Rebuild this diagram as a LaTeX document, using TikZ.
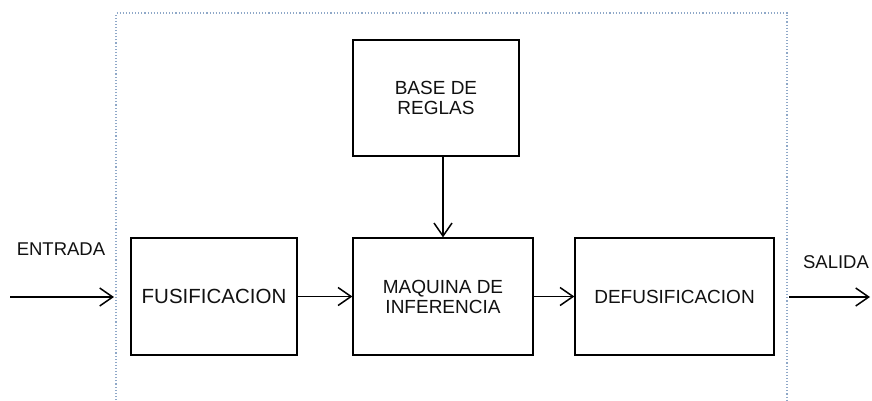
\documentclass[tikz,border=0pt]{standalone}
\usepackage{fontspec}
\setmainfont{Liberation Sans}
\usetikzlibrary{arrows.meta}
\definecolor{framec}{HTML}{8FA8C8}
\definecolor{txt}{HTML}{111111}
\tikzset{
  blockbox/.style={draw=black, line width=1.3pt, inner sep=0pt, align=center,
    text=txt, font=\fontsize{19}{20}\selectfont},
  conn/.style={line width=1.5pt, -{Straight Barb[length=13pt,width=18pt,line width=1.5pt]}},
  lbl/.style={inner sep=0pt, text=txt, font=\fontsize{18.5}{20}\selectfont},
  framel/.style={draw=framec, line width=1.1pt, dotted}
}
\begin{document}
\begin{tikzpicture}[x=1pt,y=-1pt]
\useasboundingbox (0,0) rectangle (872,400);
% frame
\coordinate (fbl) at (116,400);
\coordinate (ftl) at (116,13);
\coordinate (ftr) at (787,13);
\coordinate (fbr) at (787,400);
\draw[framel] (fbl) -- (ftl) -- (ftr) -- (fbr);
% blocks
\node[blockbox, minimum width=166pt, minimum height=116pt] (base) at (436,98) {BASE DE\\REGLAS};
\node[blockbox, minimum width=166pt, minimum height=117pt, font=\fontsize{20.5}{22}\selectfont] (fus) at (214,296.5) {FUSIFICACION};
\node[blockbox, minimum width=180pt, minimum height=117pt] (maq) at (443,296.5) {MAQUINA DE\\INFERENCIA};
\node[blockbox, minimum width=199pt, minimum height=117pt] (def) at (674.5,296.5) {DEFUSIFICACION};
% labels
\node[lbl] (ent) at (61,249.5) {ENTRADA};
\node[lbl] (sal) at (836,262.5) {SALIDA};
% free ends
\coordinate (inA) at (10,297);
\coordinate (inB) at (114,297);
\coordinate (outA) at (789,297);
\coordinate (outB) at (870,297);
% connectors
\draw[conn] (inA) -- (inB);
\draw[conn] (fus.east) -- (maq.west);
\draw[conn] (maq.east) -- (def.west);
\draw[conn] (base.south -| maq.north) -- (maq.north);
\draw[conn] (outA) -- (outB);
\end{tikzpicture}
\end{document}
